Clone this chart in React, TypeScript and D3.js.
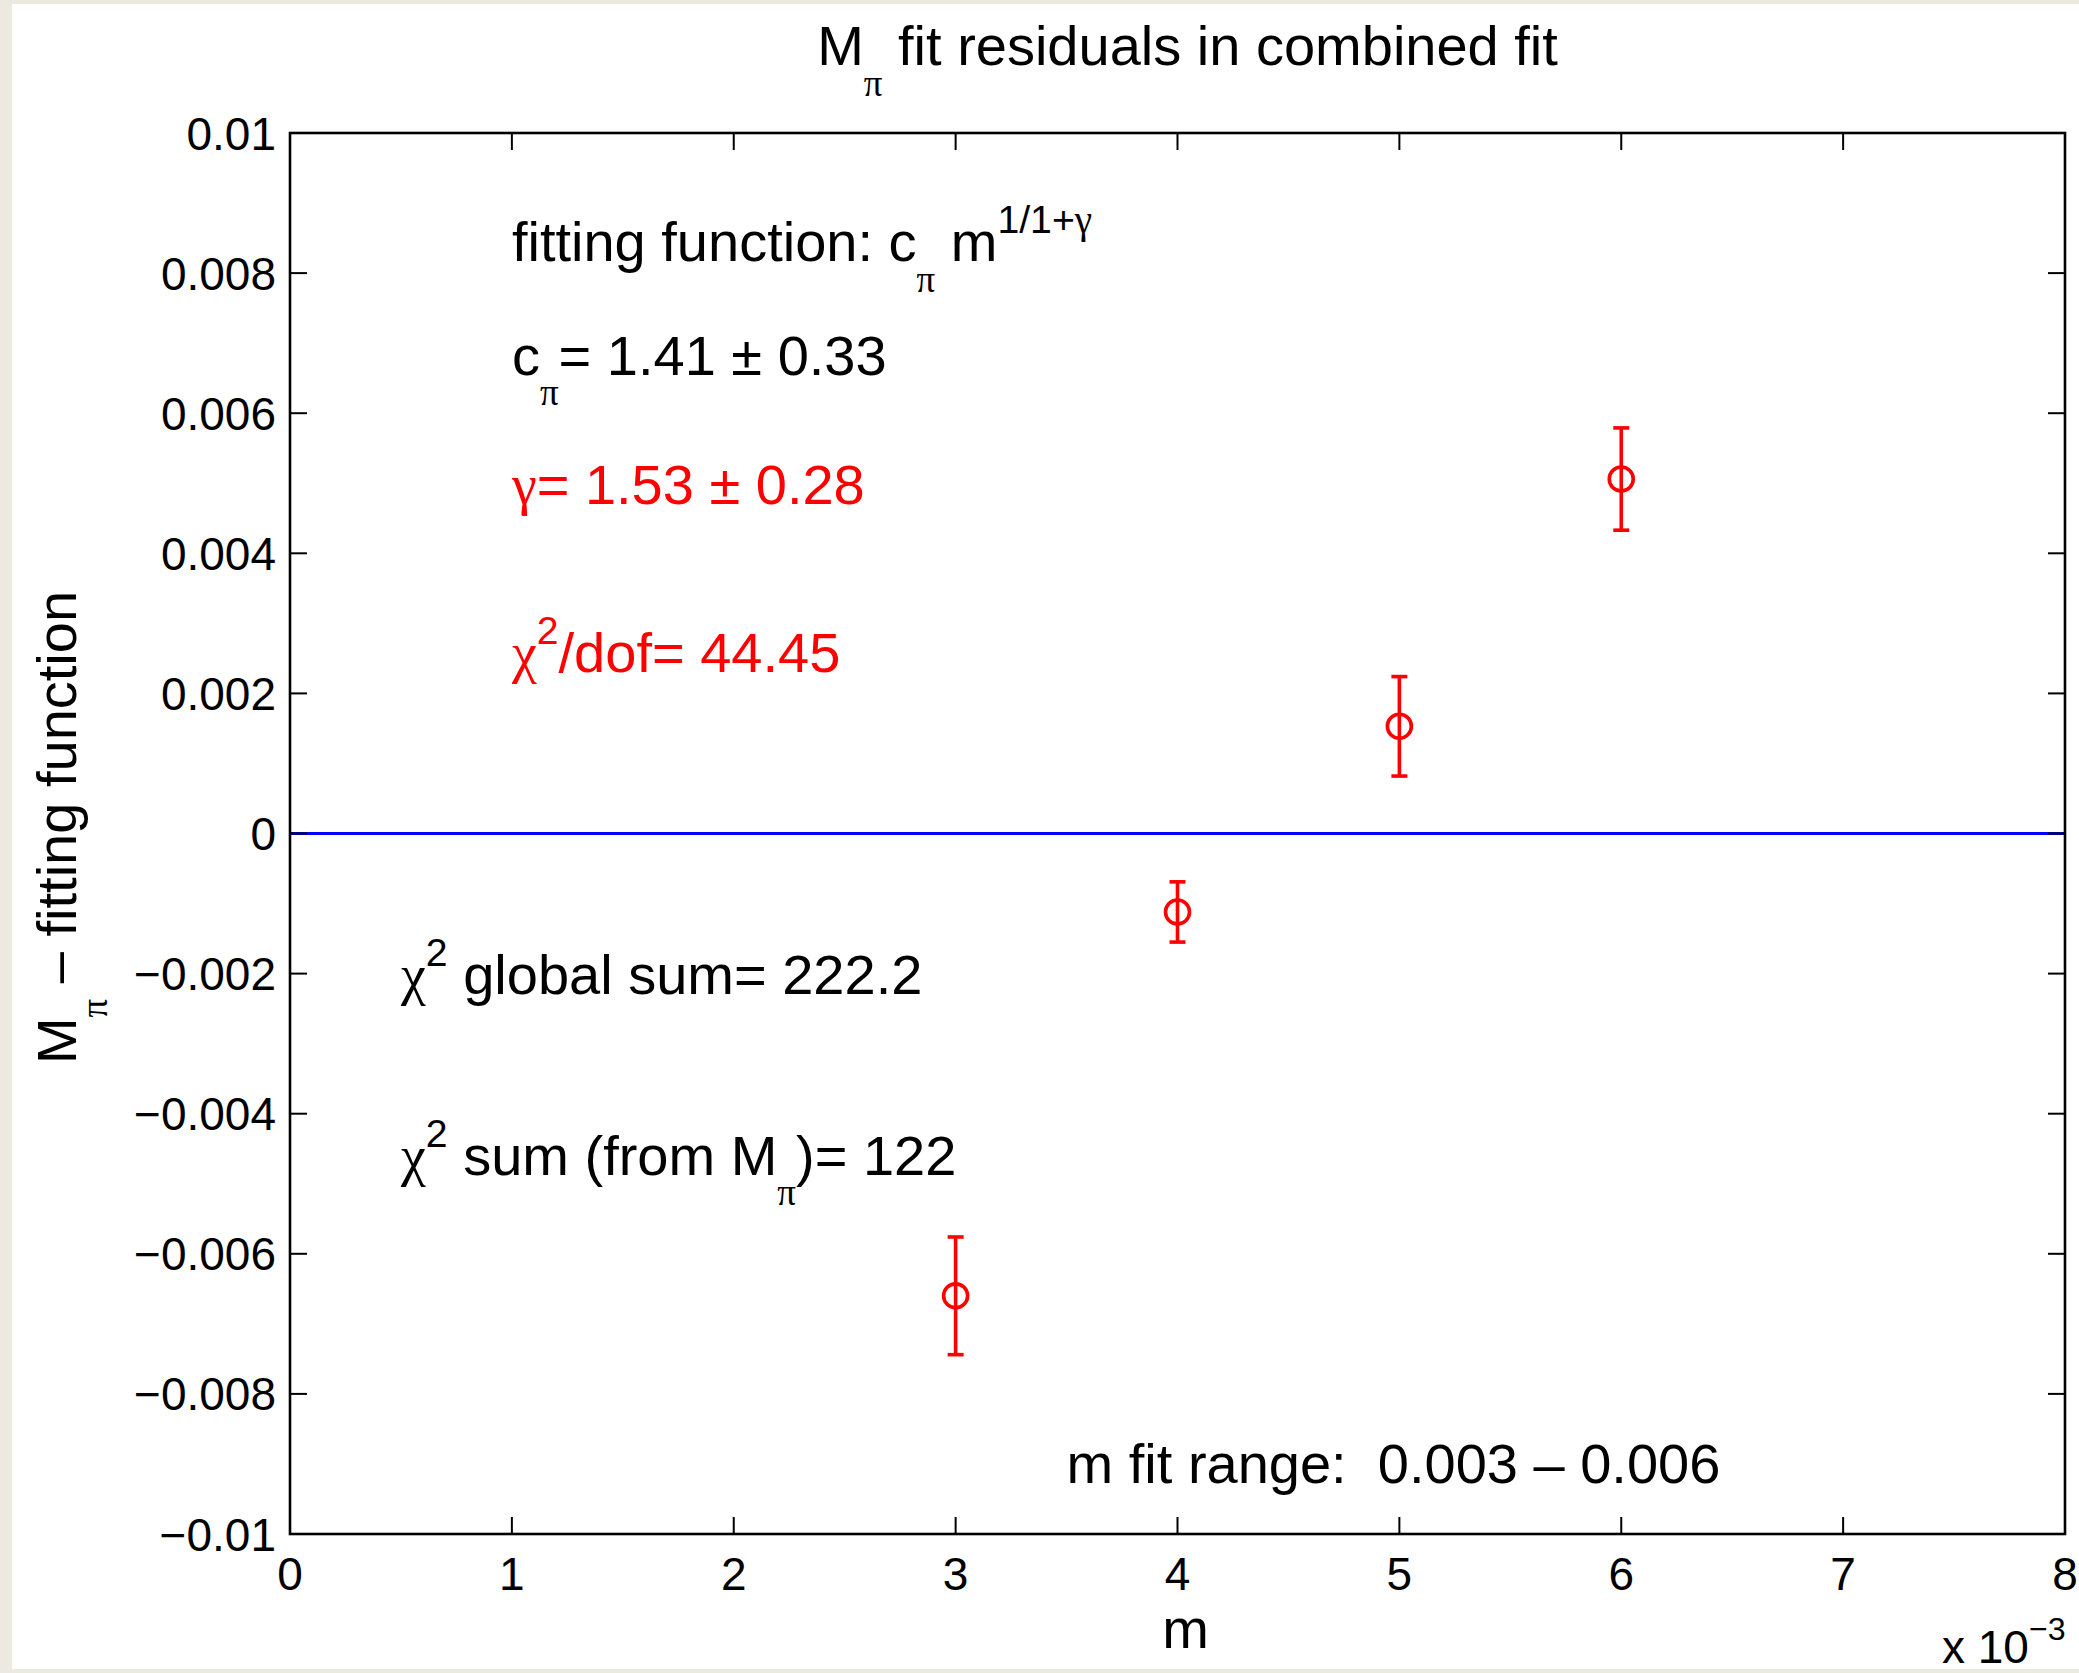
import React from 'react';
import { scaleLinear, line } from 'd3';

const width = 2079;
const height = 1673;

// plot box (matlab axes position)
const left = 290;
const right = 2065;
const top = 133;
const bottom = 1534;

const sans = 'Liberation Sans, Arial, Helvetica, sans-serif';
const serif = 'Liberation Serif, Times New Roman, serif';

// data
const mValues = [0.003, 0.004, 0.005, 0.006];
const residuals = [-0.0066, -0.00112, 0.00153, 0.00506];
const residualErrors = [0.00084, 0.00043, 0.00071, 0.00073];

// fit results printed on the plot
const cPi = [1.41, 0.33];
const gammaFit = [1.53, 0.28];
const chi2PerDof = 44.45;
const chi2Global = 222.2;
const chi2FromMpi = 122;
const fitRange = [0.003, 0.006];

const xDomain = [0, 0.008];
const yDomain = [-0.01, 0.01];

const x = scaleLinear().domain(xDomain).range([left, right]);
const y = scaleLinear().domain(yDomain).range([bottom, top]);

type Seg = { t: string; sub?: boolean; sup?: boolean; greek?: boolean };

const RichText = ({ segs, fs, ...rest }: { segs: Seg[]; fs: number; [k: string]: any }) => {
  let cur = 0;
  return (
    <text fontSize={fs} fontFamily={sans} style={{ whiteSpace: 'pre' }} {...rest}>
      {segs.map((s, i) => {
        const target = s.sub ? fs * 0.55 : s.sup ? -fs * 0.5 : 0;
        const dy = target - cur;
        cur = target;
        const size = s.sub ? fs * 0.66 : s.sup ? fs * 0.7 : fs;
        return (
          <tspan key={i} dy={dy} fontSize={size} fontFamily={s.greek ? serif : sans}>
            {s.t}
          </tspan>
        );
      })}
    </text>
  );
};

const fmtY = (v: number) => {
  if (Math.abs(v) < 1e-12) return '0';
  const s = String(+Math.abs(v).toFixed(4));
  return (v < 0 ? '\u2212' : '') + s;
};

const App = () => {
  const xTicks = x.ticks(8);
  const yTicks = y.ticks(10);
  const tick = 17;
  const fsTick = 46;
  const fs = 56;
  const red = '#ff0000';

  const zeroLine = line<number>()
    .x(d => x(d))
    .y(() => y(0))(xDomain);

  // annotation anchors in data units (like matlab text(x,y,...))
  const annotations: { at: [number, number]; color: string; segs: Seg[] }[] = [
    {
      at: [0.001, 0.00817],
      color: '#000',
      segs: [
        { t: 'fitting function: c' },
        { t: 'π', sub: true, greek: true },
        { t: ' m' },
        { t: '1/1+', sup: true },
        { t: 'γ', sup: true, greek: true },
      ],
    },
    {
      at: [0.001, 0.00655],
      color: '#000',
      segs: [
        { t: 'c' },
        { t: 'π', sub: true, greek: true },
        { t: `= ${cPi[0].toFixed(2)} ± ${cPi[1].toFixed(2)}` },
      ],
    },
    {
      at: [0.001, 0.0047],
      color: red,
      segs: [
        { t: 'γ', greek: true },
        { t: `= ${gammaFit[0].toFixed(2)} ± ${gammaFit[1].toFixed(2)}` },
      ],
    },
    {
      at: [0.001, 0.0023],
      color: red,
      segs: [{ t: 'χ', greek: true }, { t: '2', sup: true }, { t: `/dof= ${chi2PerDof}` }],
    },
    {
      at: [0.0005, -0.00229],
      color: '#000',
      segs: [{ t: 'χ', greek: true }, { t: '2', sup: true }, { t: ` global sum= ${chi2Global}` }],
    },
    {
      at: [0.0005, -0.00487],
      color: '#000',
      segs: [
        { t: 'χ', greek: true },
        { t: '2', sup: true },
        { t: ' sum (from M' },
        { t: 'π', sub: true, greek: true },
        { t: `)= ${chi2FromMpi}` },
      ],
    },
    {
      at: [0.0035, -0.00927],
      color: '#000',
      segs: [{ t: `m fit range:  ${fitRange[0]} \u2013 ${fitRange[1]}` }],
    },
  ];

  return (
    <svg width={width} height={height} style={{ position: 'absolute', left: 0, top: 0 }}>
      <rect x={0} y={0} width={width} height={height} fill="#ece9e1" />
      <rect x={12} y={4} width={width - 12} height={1665} fill="#ffffff" />

      {/* title */}
      <RichText
        x={(left + right) / 2 + 10}
        y={65}
        fs={fs}
        textAnchor="middle"
        segs={[
          { t: 'M' },
          { t: 'π', sub: true, greek: true },
          { t: ' fit residuals in combined fit' },
        ]}
      />

      {/* zero line */}
      <path d={zeroLine || ''} stroke="#0000ff" strokeWidth={3} fill="none" />

      {/* box */}
      <rect x={left} y={top} width={right - left} height={bottom - top} fill="none" stroke="#000" strokeWidth={2.6} />

      {/* y ticks */}
      {yTicks.map((t, i) => (
        <g key={'y' + i}>
          <line x1={left} x2={left + tick} y1={y(t)} y2={y(t)} stroke="#000" strokeWidth={2} />
          <line x1={right} x2={right - tick} y1={y(t)} y2={y(t)} stroke="#000" strokeWidth={2} />
          <text
            x={left - 14}
            y={y(t)}
            dy="0.36em"
            textAnchor="end"
            fontSize={fsTick}
            fontFamily={sans}
          >
            {fmtY(t)}
          </text>
        </g>
      ))}

      {/* x ticks */}
      {xTicks.map((t, i) => (
        <g key={'x' + i}>
          <line x1={x(t)} x2={x(t)} y1={bottom} y2={bottom - tick} stroke="#000" strokeWidth={2} />
          <line x1={x(t)} x2={x(t)} y1={top} y2={top + tick} stroke="#000" strokeWidth={2} />
          <text x={x(t)} y={1590} textAnchor="middle" fontSize={fsTick} fontFamily={sans}>
            {Math.round(t * 1000)}
          </text>
        </g>
      ))}

      {/* exponent */}
      <RichText
        x={1942}
        y={1663}
        fs={fsTick}
        segs={[{ t: 'x 10' }, { t: '\u22123', sup: true }]}
      />

      {/* axis labels */}
      <text x={(left + right) / 2 + 8} y={1648} textAnchor="middle" fontSize={fs} fontFamily={sans}>
        m
      </text>
      <RichText
        transform={`translate(76,${(top + bottom) / 2 - 6}) rotate(-90)`}
        x={0}
        y={0}
        fs={fs}
        textAnchor="middle"
        segs={[
          { t: 'M' },
          { t: 'π', sub: true, greek: true },
          { t: ' \u2013 fitting function' },
        ]}
      />

      {/* residual points with error bars */}
      {mValues.map((m, i) => {
        const cx = x(m);
        const cy = y(residuals[i]);
        const y1 = y(residuals[i] + residualErrors[i]);
        const y2 = y(residuals[i] - residualErrors[i]);
        return (
          <g key={'p' + i} stroke={red} strokeWidth={3.6} fill="none">
            <line x1={cx} x2={cx} y1={y1} y2={y2} />
            <line x1={cx - 8} x2={cx + 8} y1={y1} y2={y1} />
            <line x1={cx - 8} x2={cx + 8} y1={y2} y2={y2} />
            <circle cx={cx} cy={cy} r={12} />
          </g>
        );
      })}

      {/* annotations */}
      {annotations.map((a, i) => (
        <RichText key={'a' + i} x={x(a.at[0])} y={y(a.at[1])} fs={fs} fill={a.color} segs={a.segs} />
      ))}
    </svg>
  );
};

export default App;
